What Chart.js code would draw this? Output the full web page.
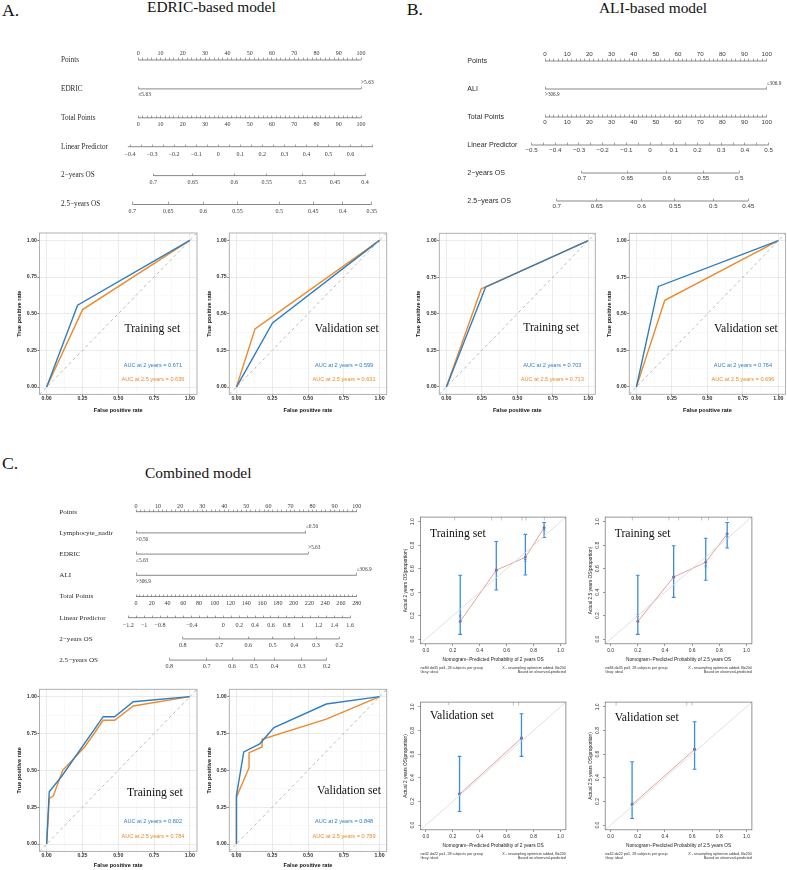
<!DOCTYPE html>
<html><head><meta charset="utf-8">
<script src="https://cdn.jsdelivr.net/npm/chart.js@4.4.1/dist/chart.umd.min.js"></script>
<style>
html,body{margin:0;padding:0;background:#fff;}
body{width:787px;height:870px;overflow:hidden;position:relative;}
canvas{position:absolute;}
.t{position:absolute;white-space:nowrap;font-family:'Liberation Serif','Times New Roman',serif;color:#111;line-height:1;}
</style></head><body>
<div class="t" style="left:2px;top:2px;font-size:17.7px">A.</div>
<div class="t" style="left:147px;top:-1px;font-size:15.4px">EDRIC-based model</div>
<div class="t" style="left:406.7px;top:1.2px;font-size:17.7px">B.</div>
<div class="t" style="left:599px;top:-0.4px;font-size:15.4px">ALI-based model</div>
<div class="t" style="left:2px;top:455.2px;font-size:17.7px">C.</div>
<div class="t" style="left:145px;top:464.8px;font-size:15.4px">Combined model</div>
<script>
// ================= DATA =================
// --- Panel A nomogram (EDRIC-based model) ---
const nomoA_rowLabels = ['Points','EDRIC','Total Points','Linear Predictor','2\u2212years OS','2.5\u2212years OS'];
const nomoA_pointsTicks = [0,10,20,30,40,50,60,70,80,90,100];
const nomoA_edricLevels = ['\u22645.63','>5.63'];
const nomoA_edricPoints = [0,100];
const nomoA_totalTicks = [0,10,20,30,40,50,60,70,80,90,100];
const nomoA_lpTicks = [-0.4,-0.3,-0.2,-0.1,0,0.1,0.2,0.3,0.4,0.5,0.6];
const nomoA_lpRange = [-0.41,0.70];
const nomoA_lpPointsAtZero = 35.9, nomoA_lpPointsPerUnit = 99;
const nomoA_os2Ticks = [0.7,0.65,0.6,0.55,0.5,0.45,0.4];
const nomoA_os2Points = [6.7,24.4,43.1,57.7,73.6,88.3,101.8];
const nomoA_os25Ticks = [0.7,0.65,0.6,0.55,0.5,0.45,0.4,0.35];
const nomoA_os25Points = [-2.7,13.5,29.2,44.6,63.3,78.6,91.8,104.8];

// --- Panel B nomogram (ALI-based model) ---
const nomoB_rowLabels = ['Points','ALI','Total Points','Linear Predictor','2\u2212years OS','2.5\u2212years OS'];
const nomoB_pointsTicks = [0,10,20,30,40,50,60,70,80,90,100];
const nomoB_aliLevels = ['>306.9','\u2264306.9'];
const nomoB_aliPoints = [0,100];
const nomoB_totalTicks = [0,10,20,30,40,50,60,70,80,90,100];
const nomoB_lpTicks = [-0.5,-0.4,-0.3,-0.2,-0.1,0,0.1,0.2,0.3,0.4,0.5];
const nomoB_lpRange = [-0.5,0.5];
const nomoB_lpPointsAtZero = 47.4, nomoB_lpPointsPerUnit = 106.9;
const nomoB_os2Ticks = [0.7,0.65,0.6,0.55,0.5];
const nomoB_os2Points = [16.6,37.1,54.9,71.4,87.6];
const nomoB_os25Ticks = [0.7,0.65,0.6,0.55,0.5,0.45];
const nomoB_os25Points = [5.3,23.3,43.6,58.6,75.9,91.7];

// --- Panel C nomogram (Combined model) ---
const nomoC_rowLabels = ['Points','Lymphocyte_nadir','EDRIC','ALI','Total Points','Linear Predictor','2\u2212years OS','2.5\u2212years OS'];
const nomoC_pointsTicks = [0,10,20,30,40,50,60,70,80,90,100];
const nomoC_lymphLevels = ['>0.56','\u22640.56'];
const nomoC_lymphPoints = [0,77];
const nomoC_edricLevels = ['\u22645.63','>5.63'];
const nomoC_edricPoints = [0,78];
const nomoC_aliLevels = ['>306.9','\u2264306.9'];
const nomoC_aliPoints = [0,100];
const nomoC_totalTicks = [0,20,40,60,80,100,120,140,160,180,200,220,240,260,280];
const nomoC_totalPerPoint = 2.8;
const nomoC_lpTicks = [-1.2,-1,-0.8,-0.4,0,0.2,0.4,0.6,0.8,1,1.2,1.4,1.6];
const nomoC_lpRange = [-1.2,1.6];
const nomoC_lpPointsAtZero = 39.6, nomoC_lpPointsPerUnit = 35.9;
const nomoC_os2Ticks = [0.8,0.7,0.6,0.5,0.4,0.3,0.2];
const nomoC_os2Points = [21.2,37.7,50.9,61.9,71.7,81.6,92.1];
const nomoC_os25Ticks = [0.8,0.7,0.6,0.5,0.4,0.3,0.2];
const nomoC_os25Points = [15.1,32.0,43.5,53.5,62.8,75.1,86.4];

// --- ROC curves ---
const rocA_train_fpr2 = [0,0.216,1],  rocA_train_tpr2 = [0,0.558,1];
const rocA_train_fpr25 = [0,0.251,1], rocA_train_tpr25 = [0,0.528,1];
const rocA_train_auc = ['AUC at 2 years = 0.671','AUC at 2.5 years = 0.636'];
const rocA_val_fpr2 = [0,0.252,1],  rocA_val_tpr2 = [0,0.437,1];
const rocA_val_fpr25 = [0,0.130,1], rocA_val_tpr25 = [0,0.397,1];
const rocA_val_auc = ['AUC at 2 years = 0.599','AUC at 2.5 years = 0.631'];

const rocB_train_fpr2 = [0,0.276,1],  rocB_train_tpr2 = [0,0.682,1];
const rocB_train_fpr25 = [0,0.246,1], rocB_train_tpr25 = [0,0.671,1];
const rocB_train_auc = ['AUC at 2 years = 0.703','AUC at 2.5 years = 0.713'];
const rocB_val_fpr2 = [0,0.155,1],  rocB_val_tpr2 = [0,0.687,1];
const rocB_val_fpr25 = [0,0.200,1], rocB_val_tpr25 = [0,0.592,1];
const rocB_val_auc = ['AUC at 2 years = 0.764','AUC at 2.5 years = 0.696'];

const rocC_train_fpr2 = [0,0.018,0.105,0.395,0.475,0.605,1];
const rocC_train_tpr2 = [0,0.355,0.460,0.864,0.864,0.966,1];
const rocC_train_fpr25 = [0,0.018,0.046,0.112,0.267,0.395,0.475,0.605,1];
const rocC_train_tpr25 = [0,0.310,0.326,0.500,0.660,0.840,0.840,0.937,1];
const rocC_train_auc = ['AUC at 2 years = 0.802','AUC at 2.5 years = 0.784'];
const rocC_val_fpr2 = [0,0,0.051,0.163,0.262,0.628,1];
const rocC_val_tpr2 = [0,0.330,0.625,0.680,0.790,0.950,1];
const rocC_val_fpr25 = [0,0,0.088,0.088,0.179,0.179,0.628,1];
const rocC_val_tpr25 = [0,0.318,0.518,0.620,0.659,0.711,0.847,1];
const rocC_val_auc = ['AUC at 2 years = 0.848','AUC at 2.5 years = 0.789'];

// --- Calibration curves ---
const calT2_pred = [0.255,0.523,0.739,0.878];
const calT2_obs  = [0.151,0.588,0.697,0.950];
const calT2_corr = [0.196,0.588,0.672,0.935];
const calT2_lo   = [0.040,0.418,0.546,0.866];
const calT2_hi   = [0.544,0.832,0.893,0.994];
const calT2_rug  = [0.213,0.489,0.560,0.714,0.743,0.880];

const calT25_pred = [0.200,0.464,0.700,0.858];
const calT25_obs  = [0.151,0.529,0.655,0.897];
const calT25_corr = [0.200,0.529,0.622,0.868];
const calT25_lo   = [0.040,0.356,0.502,0.776];
const calT25_hi   = [0.544,0.796,0.860,0.994];
const calT25_rug  = [0.160,0.430,0.500,0.670,0.720,0.860];

const calV2_pred = [0.250,0.710];
const calV2_obs  = [0.260,0.735];
const calV2_corr = [0.265,0.735];
const calV2_lo   = [0.115,0.581];
const calV2_hi   = [0.581,0.941];
const calV2_rug  = [0.170,0.650,0.690];

const calV25_pred = [0.158,0.618];
const calV25_obs  = [0.173,0.640];
const calV25_corr = [0.180,0.640];
const calV25_lo   = [0.056,0.472];
const calV25_hi   = [0.536,0.874];
const calV25_rug  = [0.040,0.560,0.600];

// ================= RENDERING =================
const SANS = "'Liberation Sans', Arial, Helvetica, sans-serif";
const SERIF = "'Liberation Serif', 'Times New Roman', serif";
const BLUE = '#2f7ec1', ORANGE = '#ec8a2c', LINE = '#7b7b7b';
Chart.defaults.animation = false;
Chart.defaults.responsive = false;
Chart.defaults.maintainAspectRatio = false;
Chart.defaults.devicePixelRatio = 1;
Chart.defaults.events = [];
Chart.defaults.font.family = SANS;
Chart.defaults.plugins.legend.display = false;
Chart.defaults.plugins.tooltip.enabled = false;

function makeCanvas(left, top, w, h) {
  const c = document.createElement('canvas');
  c.width = Math.round(w); c.height = Math.round(h);
  c.style.left = left + 'px'; c.style.top = top + 'px';
  c.style.width = Math.round(w) + 'px'; c.style.height = Math.round(h) + 'px';
  document.body.appendChild(c);
  return c;
}
function toPts(xs, ys) { return xs.map((x, i) => ({x: x, y: ys[i]})); }
function stepList(a, b, step) {
  const out = []; const n = Math.round((b - a) / step);
  for (let i = 0; i <= n; i++) out.push(Math.round((a + i * step) * 1000) / 1000);
  return out;
}
function fmt(v) { return String(Math.round(v * 1000) / 1000).replace('-', '\u2212'); }
function inList(v, list) { return list.some(t => Math.abs(t - v) < 1e-6); }

const annotPlugin = {
  id: 'annot',
  afterDraw(chart, args, opts) {
    const items = opts.items || [];
    const ctx = chart.ctx, ca = chart.chartArea;
    ctx.save();
    items.forEach(it => {
      ctx.font = it.font; ctx.fillStyle = it.color || '#111';
      ctx.textAlign = it.align || 'center'; ctx.textBaseline = 'middle';
      let px, py;
      if (it.rel) { px = ca[it.rel] + (it.dx || 0); py = ca.bottom + it.dy; }
      else { px = chart.scales.x.getPixelForValue(it.x); py = chart.scales.y.getPixelForValue(it.y); }
      ctx.fillText(it.text, px, py);
    });
    ctx.restore();
  }
};
const framePlugin = {
  id: 'frame',
  afterDraw(chart, args, opts) {
    const a = chart.chartArea, ctx = chart.ctx;
    ctx.save(); ctx.strokeStyle = opts.color || '#999'; ctx.lineWidth = opts.width || 1;
    ctx.strokeRect(a.left, a.top, a.right - a.left, a.bottom - a.top); ctx.restore();
  }
};

// ---------- Nomogram ----------
function nomogram(o) {
  const cv = makeCanvas(o.cL, o.cT, o.cW, o.cH);
  const n = o.rowLabels.length;
  const caL = o.origin + o.xmin * o.ppp - o.cL;
  const caR = o.origin + o.xmax * o.ppp - o.cL;
  const caT = o.y0 - o.dy / 2 - o.cT;
  const caB = o.y0 + (n - 0.5) * o.dy - o.cT;
  const labL = o.labelX - o.cL;
  const scales = {
    y: { type: 'linear', axis: 'y', position: 'left', reverse: true, min: -0.5, max: n - 0.5,
      afterBuildTicks: s => { s.ticks = o.rowLabels.map((_, i) => ({value: i})); },
      afterFit: s => { s.width = caL - labL; s.paddingTop = 0; s.paddingBottom = 0; },
      grid: {display: false}, border: {display: false},
      ticks: {autoSkip: false, crossAlign: 'far', padding: 0, font: o.rowFont, color: '#2b2b2b',
        callback: (v, i) => o.rowLabels[i]} }
  };
  const datasets = [];
  o.axes.forEach((ax, k) => {
    const id = 'x' + k, tl = -2.4;
    const f = ax.font || o.tickFont;
    scales[id] = { type: 'linear', axis: 'x', position: {y: ax.row}, min: o.xmin, max: o.xmax,
      afterBuildTicks: s => { s.ticks = ax.pos.map(v => ({value: v})); },
      afterFit: s => { s.paddingLeft = 0; s.paddingRight = 0; },
      border: {display: false},
      grid: {drawOnChartArea: false, drawTicks: true, tickLength: tl, tickColor: LINE, tickWidth: 0.7},
      ticks: {autoSkip: false, maxRotation: 0, minRotation: 0, align: ax.align || 'center',
        padding: ax.d - tl - f.size * 0.6, font: f, color: '#3a3a3a', callback: (v, i) => ax.labels[i]} };
    if (ax.line) datasets.push({xAxisID: id, yAxisID: 'y',
      data: [{x: ax.line[0], y: ax.row}, {x: ax.line[1], y: ax.row}],
      borderColor: LINE, borderWidth: 0.9, pointRadius: 0, showLine: true});
  });
  new Chart(cv, {type: 'scatter', data: {datasets},
    options: {layout: {padding: {left: labL, top: caT, right: o.cW - caR, bottom: o.cH - caB}}, scales}});
}

function pointsAxis(row, ticks, d, font, scaleBy) {
  const minor = stepList(0, ticks[ticks.length - 1], scaleBy ? 5 : 2);
  return {row, pos: minor.map(v => scaleBy ? v / scaleBy : v),
    labels: minor.map(v => inList(v, ticks) ? String(v) : ''), d, font, line: [0, ticks[ticks.length - 1] / (scaleBy || 1)]};
}
function lpAxis(row, ticks, range, zero, per, step, d, font) {
  const minor = stepList(ticks[0], range[1], step);
  return {row, pos: minor.map(v => zero + per * v), labels: minor.map(v => inList(v, ticks) ? fmt(v) : ''), d, font,
    line: [zero + per * range[0], zero + per * range[1]]};
}
function osAxis(row, ticks, pts, d, font) {
  return {row, pos: pts, labels: ticks.map(fmt), d, font, line: [pts[0], pts[pts.length - 1]]};
}
function catAxes(row, levels, pts, dBelow, dAbove, font) {
  return [
    {row, pos: [pts[0]], labels: [levels[0]], d: dBelow, align: 'start', font, line: [pts[0], pts[1]]},
    {row, pos: [pts[1]], labels: [levels[1]], d: dAbove, align: 'start', font}
  ];
}

// Panel A nomogram
(function () {
  const tf = {family: SERIF, size: 6};
  const cf = {family: SERIF, size: 5.5};
  nomogram({cL: 0, cT: 30, cW: 390, cH: 192, labelX: 61, origin: 138.3, ppp: 2.227, xmin: -6, xmax: 107,
    y0: 60, dy: 28.9, rowLabels: nomoA_rowLabels, rowFont: {family: SERIF, size: 7.2}, tickFont: tf,
    axes: [
      pointsAxis(0, nomoA_pointsTicks, -6.7, tf),
      ...catAxes(1, nomoA_edricLevels, nomoA_edricPoints, 6, -6.3, cf),
      pointsAxis(2, nomoA_totalTicks, 6.3, tf),
      lpAxis(3, nomoA_lpTicks, nomoA_lpRange, nomoA_lpPointsAtZero, nomoA_lpPointsPerUnit, 0.05, 8, tf),
      osAxis(4, nomoA_os2Ticks, nomoA_os2Points, 7, tf),
      osAxis(5, nomoA_os25Ticks, nomoA_os25Points, 6.5, tf)
    ]});
})();
// Panel B nomogram
(function () {
  const tf = {family: SANS, size: 6.2};
  const cf = {family: SERIF, size: 5.2};
  nomogram({cL: 390, cT: 30, cW: 397, cH: 190, labelX: 467.3, origin: 545, ppp: 2.217, xmin: -7, xmax: 107,
    y0: 61, dy: 28, rowLabels: nomoB_rowLabels, rowFont: {family: SANS, size: 7.1}, tickFont: tf,
    axes: [
      pointsAxis(0, nomoB_pointsTicks, -6.7, tf),
      ...catAxes(1, nomoB_aliLevels, nomoB_aliPoints, 5.7, -5.3, cf),
      pointsAxis(2, nomoB_totalTicks, 5.7, tf),
      lpAxis(3, nomoB_lpTicks, nomoB_lpRange, nomoB_lpPointsAtZero, nomoB_lpPointsPerUnit, 0.05, 5.7, tf),
      osAxis(4, nomoB_os2Ticks, nomoB_os2Points, 5.7, tf),
      osAxis(5, nomoB_os25Ticks, nomoB_os25Points, 5.7, tf)
    ]});
})();
// Panel C nomogram
(function () {
  const tf = {family: SERIF, size: 6.1};
  const cf = {family: SERIF, size: 5.3};
  nomogram({cL: 0, cT: 480, cW: 390, cH: 195, labelX: 59.3, origin: 136, ppp: 2.207, xmin: -6, xmax: 106,
    y0: 511.7, dy: 21.2, rowLabels: nomoC_rowLabels, rowFont: {family: SERIF, size: 7.1}, tickFont: tf,
    axes: [
      pointsAxis(0, nomoC_pointsTicks, -5.5, tf),
      ...catAxes(1, nomoC_lymphLevels, nomoC_lymphPoints, 6.5, -6, cf),
      ...catAxes(2, nomoC_edricLevels, nomoC_edricPoints, 6.5, -6, cf),
      ...catAxes(3, nomoC_aliLevels, nomoC_aliPoints, 6.5, -6, cf),
      pointsAxis(4, nomoC_totalTicks, 6.7, tf, nomoC_totalPerPoint),
      lpAxis(5, nomoC_lpTicks, nomoC_lpRange, nomoC_lpPointsAtZero, nomoC_lpPointsPerUnit, 0.1, 7.5, tf),
      osAxis(6, nomoC_os2Ticks, nomoC_os2Points, 6.4, tf),
      osAxis(7, nomoC_os25Ticks, nomoC_os25Points, 6.7, tf)
    ]});
})();

// ---------- ROC ----------
const SETF = `11.7px ${SERIF}`;
const AUCF = `5.6px ${SANS}`;
function rocChart(o) {
  const ca = o.ca;
  const cl = Math.floor(ca.l - 36), ct = Math.floor(ca.t - 4);
  const cr = Math.ceil(ca.r + 2), cb = Math.ceil(o.xTitleY + 5);
  const cv = makeCanvas(cl, ct, cr - cl, cb - ct);
  const tickSize = 5.2, titleSize = 5.6, tl = 2;
  const ticks = [0, 0.125, 0.25, 0.375, 0.5, 0.625, 0.75, 0.875, 1];
  const isMaj = v => Math.abs(v * 4 - Math.round(v * 4)) < 1e-6;
  const major = c => c.tick && isMaj(c.tick.value);
  const grid = {color: c => major(c) ? '#e2e2e2' : '#f1f1f1', lineWidth: c => major(c) ? 0.7 : 0.4,
    tickColor: c => major(c) ? '#444' : 'rgba(0,0,0,0)', tickWidth: 0.7, tickLength: tl, drawTicks: true};
  const tickFont = {family: SANS, size: tickSize, weight: 'bold'};
  const titleFont = {family: SANS, size: titleSize, weight: 'bold'};
  const datasets = [
    {data: [{x: -0.05, y: -0.05}, {x: 1.05, y: 1.05}], borderColor: '#b3b3b3', borderWidth: 0.9, borderDash: [3, 3], pointRadius: 0, showLine: true},
    {data: toPts(o.fpr2, o.tpr2), borderColor: BLUE, borderWidth: 1.4, pointRadius: 0, showLine: true},
    {data: toPts(o.fpr25, o.tpr25), borderColor: ORANGE, borderWidth: 1.4, pointRadius: 0, showLine: true}
  ];
  const texts = [
    {x: o.setPos[0], y: o.setPos[1], text: o.setName, font: SETF, color: '#111'},
    {x: o.aucX, y: 0.15, text: o.auc[0], font: AUCF, color: BLUE},
    {x: o.aucX, y: 0.05, text: o.auc[1], font: AUCF, color: ORANGE}
  ];
  new Chart(cv, {type: 'scatter', data: {datasets}, plugins: [annotPlugin, framePlugin], options: {
    layout: {padding: {left: 0, top: ca.t - ct, right: cr - ca.r, bottom: 0}},
    scales: {
      x: {type: 'linear', position: 'bottom', min: -0.05, max: 1.05,
        afterBuildTicks: s => { s.ticks = ticks.map(v => ({value: v})); },
        afterFit: s => { s.height = cb - ca.b; s.paddingLeft = 0; s.paddingRight = 0; },
        grid, border: {display: false},
        ticks: {autoSkip: false, maxRotation: 0, minRotation: 0, font: tickFont, color: '#333',
          padding: o.xTickY - ca.b - tl - tickSize * 0.6, callback: v => isMaj(v) ? v.toFixed(2) : ''},
        title: {display: true, text: 'False positive rate', font: titleFont, color: '#111',
          padding: {top: 0, bottom: cb - o.xTitleY - titleSize * 0.6}}},
      y: {type: 'linear', position: 'left', min: -0.05, max: 1.05,
        afterBuildTicks: s => { s.ticks = ticks.map(v => ({value: v})); },
        afterFit: s => { s.width = ca.l - cl; s.paddingTop = 0; s.paddingBottom = 0; },
        grid, border: {display: false},
        ticks: {autoSkip: false, font: tickFont, color: '#333', padding: 0.6, callback: v => isMaj(v) ? v.toFixed(2) : ''},
        title: {display: true, text: 'True positive rate', font: titleFont, color: '#111',
          padding: {top: o.yTitleX - cl - titleSize * 0.6, bottom: 0}}}
    },
    plugins: {annot: {items: texts}, frame: {color: '#a8a8a8', width: 0.9}}
  }});
}
rocChart({ca: {l: 39.5, r: 197, t: 233, b: 394.4}, xTickY: 398.9, xTitleY: 410, yTitleX: 19,
  fpr2: rocA_train_fpr2, tpr2: rocA_train_tpr2, fpr25: rocA_train_fpr25, tpr25: rocA_train_tpr25,
  setName: 'Training set', setPos: [0.738, 0.395], aucX: 0.742, auc: rocA_train_auc});
rocChart({ca: {l: 229.3, r: 386.7, t: 233, b: 394.4}, xTickY: 398.9, xTitleY: 410, yTitleX: 209,
  fpr2: rocA_val_fpr2, tpr2: rocA_val_tpr2, fpr25: rocA_val_fpr25, tpr25: rocA_val_tpr25,
  setName: 'Validation set', setPos: [0.771, 0.395], aucX: 0.752, auc: rocA_val_auc});
rocChart({ca: {l: 439.3, r: 595.3, t: 233.3, b: 394.3}, xTickY: 398.9, xTitleY: 410, yTitleX: 418.3,
  fpr2: rocB_train_fpr2, tpr2: rocB_train_tpr2, fpr25: rocB_train_fpr25, tpr25: rocB_train_tpr25,
  setName: 'Training set', setPos: [0.738, 0.403], aucX: 0.747, auc: rocB_train_auc});
rocChart({ca: {l: 629.3, r: 785.5, t: 233.3, b: 394.3}, xTickY: 398.9, xTitleY: 410, yTitleX: 609,
  fpr2: rocB_val_fpr2, tpr2: rocB_val_tpr2, fpr25: rocB_val_fpr25, tpr25: rocB_val_tpr25,
  setName: 'Validation set', setPos: [0.771, 0.395], aucX: 0.75, auc: rocB_val_auc});
rocChart({ca: {l: 39.5, r: 197, t: 689.3, b: 851.4}, xTickY: 855.5, xTitleY: 865.7, yTitleX: 19,
  fpr2: rocC_train_fpr2, tpr2: rocC_train_tpr2, fpr25: rocC_train_fpr25, tpr25: rocC_train_tpr25,
  setName: 'Training set', setPos: [0.756, 0.348], aucX: 0.742, auc: rocC_train_auc});
rocChart({ca: {l: 229.3, r: 386.7, t: 689.3, b: 851.4}, xTickY: 855.5, xTitleY: 865.7, yTitleX: 209,
  fpr2: rocC_val_fpr2, tpr2: rocC_val_tpr2, fpr25: rocC_val_fpr25, tpr25: rocC_val_tpr25,
  setName: 'Validation set', setPos: [0.787, 0.36], aucX: 0.752, auc: rocC_val_auc});

// ---------- Calibration ----------
const BAR = '#3a8edb';
function measureText(t, f) { const c = document.createElement('canvas').getContext('2d'); c.font = f; return c.measureText(t).width; }
function calChart(o) {
  const ca = o.ca;
  const cl = Math.floor(ca.l - 22), ct = Math.floor(ca.t - 3), cr = Math.ceil(ca.r + 3), cb = Math.ceil(ca.b + 31);
  const cv = makeCanvas(cl, ct, cr - cl, cb - ct);
  const tl = 2.2, tickSize = 5, titleSize = 4.8;
  const ticks = [0, 0.2, 0.4, 0.6, 0.8, 1];
  const wid = measureText('0.0', `${tickSize}px ${SANS}`);
  const tickFont = {family: SANS, size: tickSize};
  const titleFont = {family: SANS, size: titleSize};
  const grid = {drawOnChartArea: false, drawTicks: true, tickLength: tl, tickColor: '#555', tickWidth: 0.6};
  const datasets = [
    {data: [{x: -0.04, y: -0.04}, {x: 1.04, y: 1.04}], borderColor: '#d8d8d8', borderWidth: 0.8, pointRadius: 0, showLine: true},
    {data: o.rug.map(x => ({x: x, y: 1.025})), pointStyle: 'line', pointRotation: 90, pointRadius: 1.6,
      pointBorderColor: '#a6a6a6', pointBorderWidth: 0.7, showLine: false}
  ];
  o.pred.forEach((x, i) => {
    datasets.push({data: [{x: x, y: o.lo[i]}, {x: x, y: o.hi[i]}], borderColor: BAR, borderWidth: 1.3,
      pointStyle: 'line', pointRadius: 1.9, pointBorderColor: BAR, pointBorderWidth: 1.1, showLine: true});
  });
  datasets.push({data: toPts(o.pred, o.obs), borderColor: '#e3887e', borderWidth: 0.8, pointRadius: 1.1,
    pointBackgroundColor: '#c44d47', pointBorderColor: '#c44d47', showLine: true});
  datasets.push({data: toPts(o.pred, o.corr), pointStyle: 'crossRot', pointRadius: 1.8, pointBorderColor: '#4d8fd6',
    pointBorderWidth: 0.8, showLine: false});
  const footF = `3.7px ${SANS}`;
  const texts = [
    {x: 0.03, y: o.setY, text: o.setName, font: SETF, color: '#111', align: 'left'},
    {rel: 'left', dx: 0, dy: 24, text: o.foot, font: footF, color: '#333', align: 'left'},
    {rel: 'left', dx: 0, dy: 28.3, text: 'Gray: ideal', font: footF, color: '#333', align: 'left'},
    {rel: 'right', dx: 0, dy: 24, text: 'X - resampling optimism added, B=200', font: footF, color: '#333', align: 'right'},
    {rel: 'right', dx: 0, dy: 28.3, text: 'Based on observed-predicted', font: footF, color: '#333', align: 'right'}
  ];
  new Chart(cv, {type: 'scatter', data: {datasets}, plugins: [annotPlugin, framePlugin], options: {
    layout: {padding: {left: 0, top: ca.t - ct, right: cr - ca.r, bottom: 0}},
    scales: {
      x: {type: 'linear', position: 'bottom', min: -0.04, max: 1.04,
        afterBuildTicks: s => { s.ticks = ticks.map(v => ({value: v})); },
        afterFit: s => { s.height = cb - ca.b; s.paddingLeft = 0; s.paddingRight = 0; },
        grid, border: {display: false},
        ticks: {autoSkip: false, maxRotation: 0, minRotation: 0, font: tickFont, color: '#333',
          padding: 7 - tl - tickSize * 0.6, callback: v => v.toFixed(1)},
        title: {display: true, text: o.xTitle, font: titleFont, color: '#222',
          padding: {top: 0, bottom: cb - (ca.b + 15.4) - titleSize * 0.6}}},
      y: {type: 'linear', position: 'left', min: -0.04, max: 1.04,
        afterBuildTicks: s => { s.ticks = ticks.map(v => ({value: v})); },
        afterFit: s => { s.width = ca.l - cl; s.paddingTop = 0; s.paddingBottom = 0; },
        grid, border: {display: false},
        ticks: {autoSkip: false, minRotation: 90, maxRotation: 90, crossAlign: 'center', font: tickFont, color: '#333',
          padding: 8 - tl - wid / 2, callback: v => v.toFixed(1)},
        title: {display: true, text: o.yTitle, font: titleFont, color: '#222',
          padding: {top: (ca.l - 14.5) - cl - titleSize * 0.6, bottom: 0}}}
    },
    plugins: {annot: {items: texts}, frame: {color: '#6a6a6a', width: 0.7}}
  }});
}
calChart({ca: {l: 420.5, r: 567.8, t: 515.2, b: 643.8}, pred: calT2_pred, obs: calT2_obs, corr: calT2_corr,
  lo: calT2_lo, hi: calT2_hi, rug: calT2_rug, setName: 'Training set', setY: 0.90,
  xTitle: 'Nomogram\u2212Predicted Probability of 2 years OS', yTitle: 'Actual 2 years OS(proportion)',
  foot: 'n=84 d=35 p=3, 28 subjects per group'});
calChart({ca: {l: 605.2, r: 753.2, t: 515.2, b: 643.8}, pred: calT25_pred, obs: calT25_obs, corr: calT25_corr,
  lo: calT25_lo, hi: calT25_hi, rug: calT25_rug, setName: 'Training set', setY: 0.90,
  xTitle: 'Nomogram\u2212Predicted Probability of 2.5 years OS', yTitle: 'Actual 2.5 years OS(proportion)',
  foot: 'n=84 d=35 p=3, 28 subjects per group'});
calChart({ca: {l: 420.5, r: 567.8, t: 700.9, b: 829.8}, pred: calV2_pred, obs: calV2_obs, corr: calV2_corr,
  lo: calV2_lo, hi: calV2_hi, rug: calV2_rug, setName: 'Validation set', setY: 0.92,
  xTitle: 'Nomogram\u2212Predicted Probability of 2 years OS', yTitle: 'Actual 2 years OS(proportion)',
  foot: 'n=42 d=22 p=1, 28 subjects per group'});
calChart({ca: {l: 605.2, r: 753.2, t: 700.9, b: 829.8}, pred: calV25_pred, obs: calV25_obs, corr: calV25_corr,
  lo: calV25_lo, hi: calV25_hi, rug: calV25_rug, setName: 'Validation set', setY: 0.91,
  xTitle: 'Nomogram\u2212Predicted Probability of 2.5 years OS', yTitle: 'Actual 2.5 years OS(proportion)',
  foot: 'n=42 d=22 p=1, 28 subjects per group'});
</script>
</body></html>
